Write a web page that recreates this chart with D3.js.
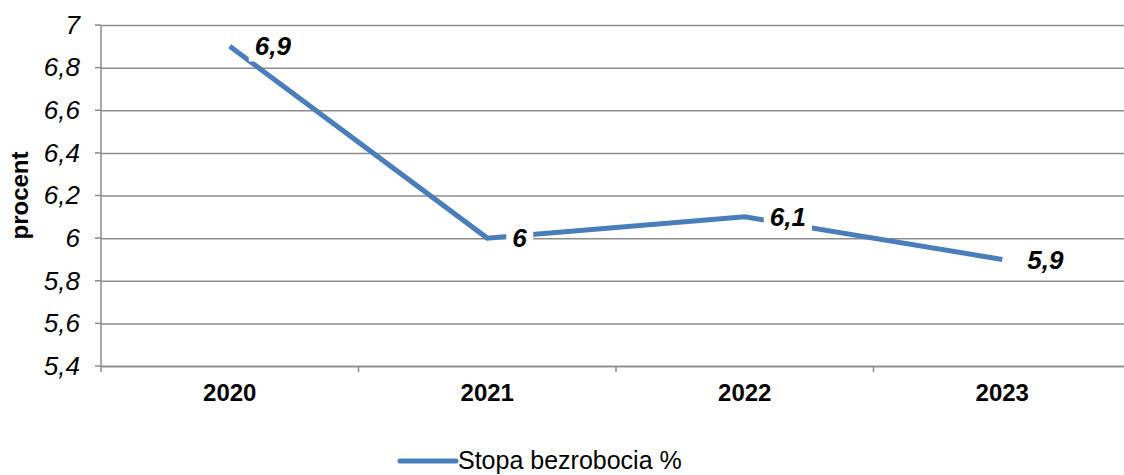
<!DOCTYPE html>
<html>
<head>
<meta charset="utf-8">
<script src="https://cdn.jsdelivr.net/npm/d3@7"></script>
<style>
  body { margin: 0; background: #fff; overflow: hidden; }
  svg { font-family: "Liberation Sans", Arial, sans-serif; }
</style>
</head>
<body>
<div id="chart"></div>
<script>
// data
const years = ["2020", "2021", "2022", "2023"];
const rates = [6.9, 6.0, 6.1, 5.9];
const yTicks = [5.4, 5.6, 5.8, 6.0, 6.2, 6.4, 6.6, 6.8, 7.0];
const seriesName = "Stopa bezrobocia %";

const width = 1124, height = 475;
const margin = { top: 25, left: 101, bottom: 109 };
const plotW = 1030;           // plot area runs past the right edge
const innerH = height - margin.top - margin.bottom;

const BLUE = "#4A7EBB";
const GRID = "#8C8C8C";
const fmt = v => String(v).replace(".", ",");

const svg = d3.select("#chart").append("svg")
  .attr("width", width)
  .attr("height", height);

const chart = svg.append("g")
  .attr("transform", `translate(${margin.left},${margin.top})`);

// scales
const x = d3.scaleBand().domain(years).range([0, plotW]);
const y = d3.scaleLinear().domain([5.4, 7]).range([innerH, 0]);

// horizontal gridlines + y ticks
chart.append("g")
  .call(d3.axisLeft(y).tickValues(yTicks).tickSize(-plotW).tickSizeOuter(0).tickPadding(21).tickFormat(d => fmt(+d.toFixed(1))))
  .attr("font-size", null)
  .call(g => g.select(".domain").remove())
  .call(g => g.selectAll(".tick line").attr("stroke", GRID).attr("stroke-width", 1.5))
  .call(g => g.selectAll(".tick text")
    .attr("fill", "#000")
    .attr("font-size", 26)
    .attr("font-style", "italic"));

// small outward tick marks on left
chart.append("g")
  .selectAll("line")
  .data(yTicks)
  .join("line")
  .attr("x1", -6).attr("x2", 0)
  .attr("y1", d => y(d)).attr("y2", d => y(d))
  .attr("stroke", GRID).attr("stroke-width", 1.5);

// left axis line
chart.append("line")
  .attr("x1", 0).attr("x2", 0)
  .attr("y1", 0).attr("y2", innerH + 6)
  .attr("stroke", GRID).attr("stroke-width", 1.5);

// x axis
chart.append("g")
  .attr("transform", `translate(0,${innerH})`)
  .call(d3.axisBottom(x).tickSize(0).tickPadding(18))
  .attr("font-size", null)
  .call(g => g.select(".domain").attr("stroke", GRID).attr("stroke-width", 1.5))
  .call(g => g.selectAll(".tick text")
    .attr("fill", "#000")
    .attr("font-size", 24)
    .attr("font-weight", "bold"));

// category separators
chart.append("g")
  .selectAll("line")
  .data(years.slice(1))
  .join("line")
  .attr("x1", d => x(d)).attr("x2", d => x(d))
  .attr("y1", innerH).attr("y2", innerH + 6)
  .attr("stroke", GRID).attr("stroke-width", 1.5);

// line
const line = d3.line()
  .x((d, i) => x(years[i]) + x.bandwidth() / 2)
  .y(d => y(d));

chart.append("path")
  .datum(rates)
  .attr("fill", "none")
  .attr("stroke", BLUE)
  .attr("stroke-width", 5)
  .attr("d", line);

// data labels with white backgrounds
const labels = chart.selectAll("g.lbl")
  .data(rates)
  .join("g")
  .attr("class", "lbl")
  .attr("transform", (d, i) => `translate(${x(years[i]) + x.bandwidth() / 2 + 25},${y(d)})`);

labels.append("text")
  .attr("dy", "0.35em")
  .attr("font-size", 26)
  .attr("font-weight", "bold")
  .attr("font-style", "italic")
  .attr("fill", "#000")
  .text(d => fmt(d));

labels.each(function () {
  const g = d3.select(this);
  const bb = g.select("text").node().getBBox();
  g.insert("rect", "text")
    .attr("x", bb.x - 6).attr("y", bb.y)
    .attr("width", bb.width + 12).attr("height", bb.height)
    .attr("fill", "#fff");
});

// y axis title
svg.append("text")
  .attr("transform", `translate(28,${margin.top + innerH / 2}) rotate(-90)`)
  .attr("text-anchor", "middle")
  .attr("font-size", 24)
  .attr("font-weight", "bold")
  .text("procent");

// legend
const legend = svg.append("g").attr("transform", "translate(400,461)");
legend.append("line")
  .attr("x1", 0).attr("x2", 56)
  .attr("stroke", BLUE).attr("stroke-width", 5)
  .attr("stroke-linecap", "round");
legend.append("text")
  .attr("x", 58).attr("dy", "0.33em")
  .attr("font-size", 25)
  .text(seriesName);
</script>
</body>
</html>
